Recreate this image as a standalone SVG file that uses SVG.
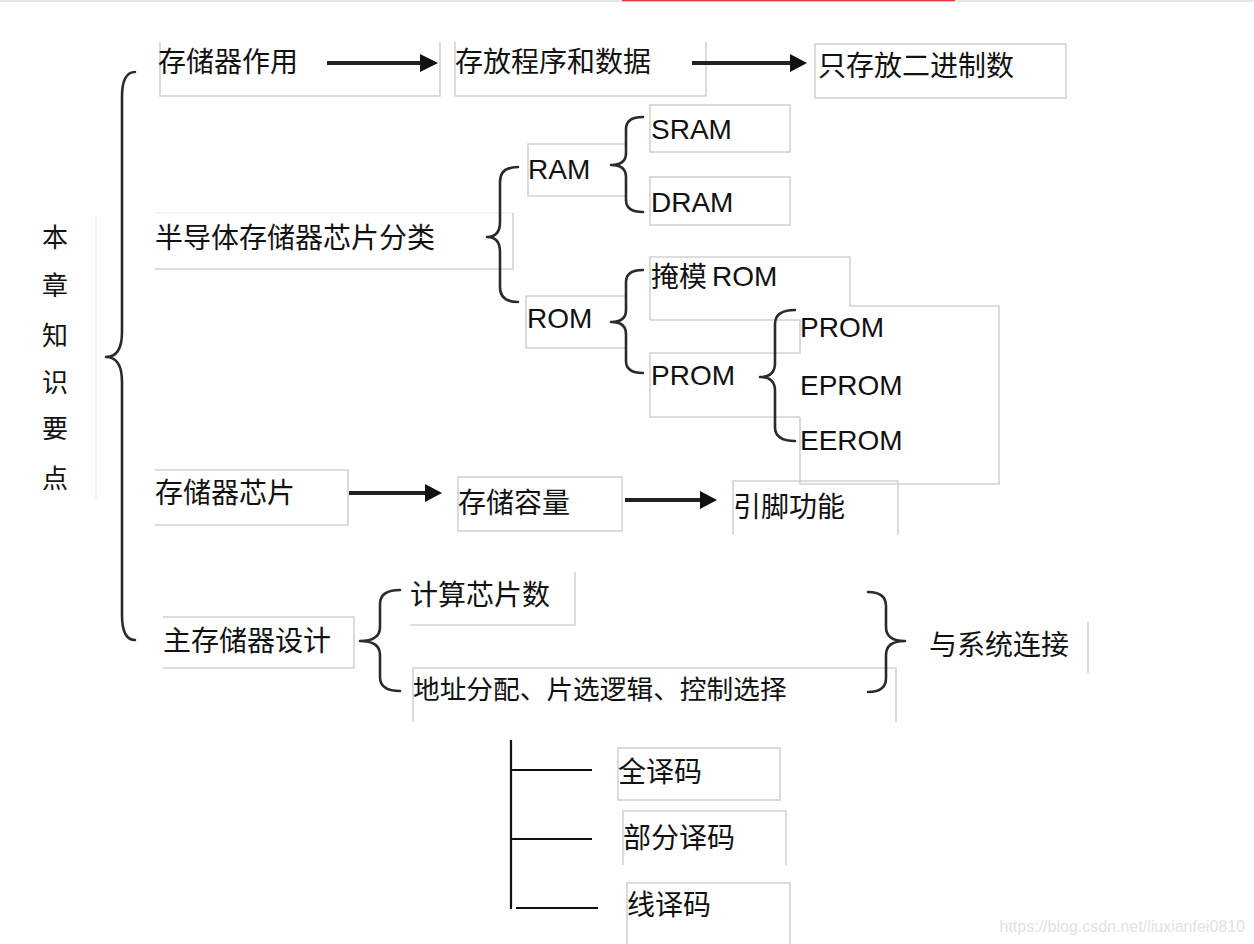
<svg xmlns="http://www.w3.org/2000/svg" width="1254" height="944" viewBox="0 0 1254 944">
<defs>
<style>
.cj{font-family:"Noto Sans CJK SC","Noto Sans",sans-serif;font-size:28px;fill:#111}
.en{font-family:"Liberation Sans",Arial,sans-serif;font-size:28px;fill:#111}
.box{fill:none;stroke:#d2d2d2;stroke-width:1.6}
.faint{fill:none;stroke:#ececec;stroke-width:1.2}
.brace{fill:none;stroke:#2b2b2b;stroke-width:2.6;stroke-linecap:round;stroke-linejoin:round}
.arr{stroke:#222;stroke-width:4}
.head{fill:#111}
.tree{stroke:#111;stroke-width:2.2}
</style>
</defs>
<rect width="1254" height="944" fill="#fff"/>
<line x1="0" y1="1" x2="1254" y2="1" stroke="#e6e6e6" stroke-width="2"/>
<line x1="622" y1="0.5" x2="955" y2="0.5" stroke="#e53935" stroke-width="1.5"/>

<g id="boxes">
<path class="box" d="M160,42 V96 H440 V42"/>
<path class="box" d="M455,42 V96 H706 V42"/>
<rect class="box" x="815" y="44" width="251" height="54"/>
<path class="faint" d="M155,213 H513"/>
<path class="box" d="M513,213 V269 H155"/>
<path class="box" d="M626,144 H528 V196 H626"/>
<rect class="box" x="650" y="105" width="140" height="47"/>
<rect class="box" x="650" y="177" width="140" height="48"/>
<path class="box" d="M626,296 H526 V348 H626"/>
<path class="box" d="M650,320 V257 H850 V306"/>
<path class="box" d="M650,320 H800 V353 H650 V417 H800"/>
<path class="box" d="M850,306 H999 V484 H800 V417"/>
<path class="box" d="M155,470 H348 V525 H155"/>
<rect class="box" x="458" y="477" width="164" height="54"/>
<path class="box" d="M733,535 V481 H898 V535"/>
<path class="box" d="M163,617 H354 V668 H163"/>
<path class="box" d="M575,572 V625 H410"/>
<path class="box" d="M413,722 V668 H896 V722"/>
<line class="box" x1="1088" y1="622" x2="1088" y2="673"/>
<rect class="box" x="618" y="748" width="162" height="52"/>
<path class="box" d="M623,865 V811 H786 V865"/>
<path class="box" d="M627,944 V883 H790 V944"/>
<line class="faint" x1="96" y1="215" x2="96" y2="500"/>
</g>

<g id="connectors">
<path class="brace" d="M135,72 Q122,72 122,97 L122,332 Q122,357 106,357 Q122,357 122,382 L122,615 Q122,640 135,640"/>
<path class="brace" d="M518,167 Q500,167 500,182 L500,222 Q500,237 487,237 Q500,237 500,252 L500,287 Q500,302 518,302"/>
<path class="brace" d="M643,117 Q626,117 626,129 L626,153 Q626,165 611,165 Q626,165 626,177 L626,200 Q626,212 643,212"/>
<path class="brace" d="M643,270 Q626,270 626,282 L626,310 Q626,322 611,322 Q626,322 626,334 L626,361 Q626,373 643,373"/>
<path class="brace" d="M795,310 Q775,310 775,324 L775,363 Q775,377 760,377 Q775,377 775,391 L775,427 Q775,441 795,441"/>
<path class="brace" d="M400,590 Q380,590 380,604 L380,627 Q380,641 360,641 Q380,641 380,655 L380,677 Q380,691 400,691"/>
<path class="brace" d="M868,592 Q886,592 886,606 L886,627 Q886,641 905,641 Q886,641 886,655 L886,678 Q886,692 868,692"/>

<line class="arr" x1="327" y1="63" x2="421" y2="63"/>
<polygon class="head" points="420,54 438,63 420,72"/>
<line class="arr" x1="692" y1="63" x2="791" y2="63"/>
<polygon class="head" points="790,54 807,63 790,72"/>
<line class="arr" x1="349" y1="493" x2="426" y2="493"/>
<polygon class="head" points="425,484 442,493 425,502"/>
<line class="arr" x1="625" y1="500" x2="701" y2="500"/>
<polygon class="head" points="700,491 717,500 700,509"/>

<line class="tree" x1="511" y1="740" x2="511" y2="909"/>
<line class="tree" x1="511" y1="770" x2="592" y2="770"/>
<line class="tree" x1="511" y1="839" x2="592" y2="839"/>
<line class="tree" x1="516" y1="908" x2="598" y2="908"/>
</g>

<g id="n-title" class="cj" text-anchor="middle">
<text x="55" y="247" style="font-size:26px">本</text>
<text x="55" y="295" style="font-size:26px">章</text>
<text x="55" y="345" style="font-size:26px">知</text>
<text x="55" y="392" style="font-size:26px">识</text>
<text x="55" y="438" style="font-size:26px">要</text>
<text x="55" y="488" style="font-size:26px">点</text>
</g>
<g id="n-zuoyong"><text class="cj" x="158" y="72">存储器作用</text></g>
<g id="n-cunfang"><text class="cj" x="455" y="72">存放程序和数据</text></g>
<g id="n-erjinzhi"><text class="cj" x="818" y="76">只存放二进制数</text></g>
<g id="n-fenlei"><text class="cj" x="155" y="248">半导体存储器芯片分类</text></g>
<g id="n-ram"><text class="en" x="528" y="179">RAM</text></g>
<g id="n-sram"><text class="en" x="651" y="139">SRAM</text></g>
<g id="n-dram"><text class="en" x="651" y="212">DRAM</text></g>
<g id="n-rom"><text class="en" x="527" y="328">ROM</text></g>
<g id="n-yanmo"><text class="cj" x="651" y="287">掩模<tspan class="en" x="712" y="286">ROM</tspan></text></g>
<g id="n-prom1"><text class="en" x="651" y="385">PROM</text></g>
<g id="n-prom2"><text class="en" x="800" y="337">PROM</text></g>
<g id="n-eprom"><text class="en" x="800" y="395">EPROM</text></g>
<g id="n-eerom"><text class="en" x="800" y="450">EEROM</text></g>
<g id="n-xinpian"><text class="cj" x="155" y="503">存储器芯片</text></g>
<g id="n-rongliang"><text class="cj" x="458" y="513">存储容量</text></g>
<g id="n-yinjiao"><text class="cj" x="733" y="517">引脚功能</text></g>
<g id="n-sheji"><text class="cj" x="163" y="651">主存储器设计</text></g>
<g id="n-jisuan"><text class="cj" x="410" y="605">计算芯片数</text></g>
<g id="n-dizhi"><text class="cj" x="413" y="699" style="font-size:26.7px">地址分配、片选逻辑、控制选择</text></g>
<g id="n-lianjie"><text class="cj" x="929" y="655">与系统连接</text></g>
<g id="n-quan"><text class="cj" x="618" y="782">全译码</text></g>
<g id="n-bufen"><text class="cj" x="623" y="848">部分译码</text></g>
<g id="n-xian"><text class="cj" x="627" y="915">线译码</text></g>
<text x="1245" y="932" text-anchor="end" style="font-family:'Liberation Sans',Arial,sans-serif;font-size:16px;fill:#e2e2e2">https://blog.csdn.net/liuxianfei0810</text>
</svg>
